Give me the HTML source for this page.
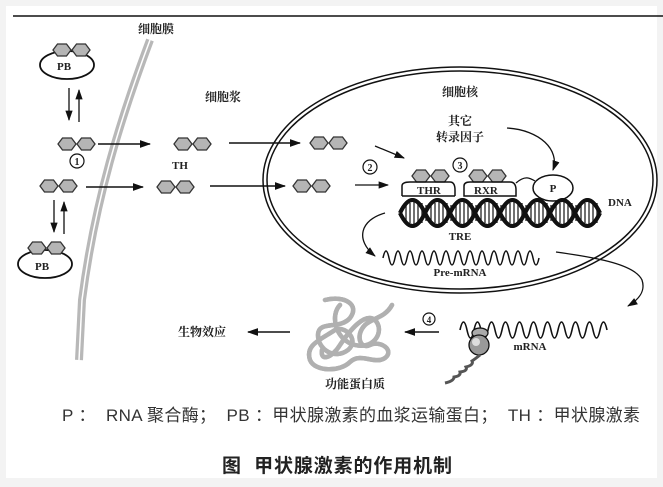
<!DOCTYPE html>
<html><head><meta charset="utf-8"><style>
html,body{margin:0;padding:0;background:#f3f3f3;}
svg{display:block;}
.t{font-family:"Liberation Serif","Noto Serif CJK SC",serif;font-weight:bold;fill:#222;}
</style></head><body>
<svg width="663" height="487" viewBox="0 0 663 487" xmlns="http://www.w3.org/2000/svg">
<defs>
<g id="hx"><polygon points="-9,0 -4.5,-6 4.5,-6 9,0 4.5,6 -4.5,6" fill="#b5b5b5" stroke="#333" stroke-width="1.3"/></g>
<g id="hp"><use href="#hx" x="0"/><use href="#hx" x="19"/></g>
<marker id="ar" viewBox="0 0 10 10" refX="9" refY="5" markerWidth="8" markerHeight="8" orient="auto"><path d="M0,1.5 L10,5 L0,8.5 Z" fill="#111"/></marker>
</defs>
<rect x="6" y="6" width="651" height="472" fill="#fff"/>
<line x1="13" y1="16" x2="663" y2="16" stroke="#111" stroke-width="1.5"/>

<path d="M150,40 C120,120 95,200 82,300 L79,360" fill="none" stroke="#b8b8b8" stroke-width="8"/>
<path d="M150,40 C120,120 95,200 82,300 L79,360" fill="none" stroke="#fff" stroke-width="1.5"/>
<text class="t" x="138" y="33" font-size="12">细胞膜</text>
<text class="t" x="205" y="101" font-size="12">细胞浆</text>

<ellipse cx="67" cy="65" rx="27" ry="14" fill="#fff" stroke="#111" stroke-width="1.8"/>
<use href="#hp" x="62" y="50"/>
<text class="t" x="57" y="70" font-size="11">PB</text>
<line x1="69" y1="88" x2="69" y2="120" stroke="#111" stroke-width="1.3" marker-end="url(#ar)"/>
<line x1="79" y1="122" x2="79" y2="90" stroke="#111" stroke-width="1.3" marker-end="url(#ar)"/>
<use href="#hp" x="67" y="144"/>
<circle cx="77" cy="161" r="7" fill="#fff" stroke="#111" stroke-width="1.2"/>
<text class="t" x="77" y="165" font-size="10" text-anchor="middle">1</text>
<use href="#hp" x="49" y="186"/>
<line x1="54" y1="200" x2="54" y2="232" stroke="#111" stroke-width="1.3" marker-end="url(#ar)"/>
<line x1="64" y1="234" x2="64" y2="202" stroke="#111" stroke-width="1.3" marker-end="url(#ar)"/>
<ellipse cx="45" cy="264" rx="27" ry="14" fill="#fff" stroke="#111" stroke-width="1.8"/>
<use href="#hp" x="37" y="248"/>
<text class="t" x="35" y="270" font-size="11">PB</text>

<line x1="98" y1="144" x2="150" y2="144" stroke="#111" stroke-width="1.4" marker-end="url(#ar)"/>
<line x1="86" y1="187" x2="143" y2="187" stroke="#111" stroke-width="1.4" marker-end="url(#ar)"/>
<use href="#hp" x="183" y="144"/>
<text class="t" x="172" y="169" font-size="11">TH</text>
<use href="#hp" x="166" y="187"/>
<line x1="229" y1="143" x2="300" y2="143" stroke="#111" stroke-width="1.4" marker-end="url(#ar)"/>
<line x1="210" y1="186" x2="285" y2="186" stroke="#111" stroke-width="1.4" marker-end="url(#ar)"/>

<ellipse cx="460" cy="180" rx="197" ry="113" fill="none" stroke="#111" stroke-width="1.5"/>
<ellipse cx="460" cy="180" rx="193" ry="109" fill="none" stroke="#111" stroke-width="1.5"/>
<text class="t" x="460" y="96" font-size="12" text-anchor="middle">细胞核</text>
<text class="t" x="460" y="125" font-size="12" text-anchor="middle">其它</text>
<text class="t" x="460" y="141" font-size="12" text-anchor="middle">转录因子</text>
<use href="#hp" x="319" y="143"/>
<use href="#hp" x="302" y="186"/>
<line x1="375" y1="146" x2="404" y2="158" stroke="#111" stroke-width="1.3" marker-end="url(#ar)"/>
<line x1="355" y1="185" x2="388" y2="185" stroke="#111" stroke-width="1.3" marker-end="url(#ar)"/>
<circle cx="370" cy="167" r="7" fill="#fff" stroke="#111" stroke-width="1.2"/>
<text class="t" x="370" y="171" font-size="10" text-anchor="middle">2</text>
<circle cx="460" cy="165" r="7" fill="#fff" stroke="#111" stroke-width="1.2"/>
<text class="t" x="460" y="169" font-size="10" text-anchor="middle">3</text>
<path d="M507,128 C540,130 560,150 553,170" fill="none" stroke="#111" stroke-width="1.3" marker-end="url(#ar)"/>

<use href="#hp" x="421" y="176"/>
<use href="#hp" x="478" y="176"/>
<path d="M402,196 L402,186 Q402,182 410,182 L450,182 Q455,182 455,190 L455,196" fill="none" stroke="#111" stroke-width="1.5"/>
<path d="M464,196 L464,186 Q464,182 470,182 L510,182 Q516,182 516,190 L516,196 Z" fill="none" stroke="#111" stroke-width="1.5"/>
<path d="M402,196 L455,196" fill="none" stroke="#111" stroke-width="1.5"/>
<text class="t" x="417" y="194" font-size="11">THR</text>
<text class="t" x="474" y="194" font-size="11">RXR</text>
<path d="M516,183 C525,175 530,178 535,181" fill="none" stroke="#111" stroke-width="1.3"/>
<ellipse cx="553" cy="188" rx="20" ry="13" fill="#fff" stroke="#111" stroke-width="1.5"/>
<text class="t" x="553" y="192" font-size="11" text-anchor="middle">P</text>

<g stroke="#333" stroke-width="1.4">
<path d="M406,205V221M410,203V223M414,202V224M418,202V224M422,203V223M426,205V221
M431,205V221M435,203V223M439,202V224M443,202V224M447,203V223M451,205V221
M456,205V221M460,203V223M464,202V224M468,202V224M472,203V223M476,205V221
M481,205V221M485,203V223M489,202V224M493,202V224M497,203V223M501,205V221
M506,205V221M510,203V223M514,202V224M518,202V224M522,203V223M526,205V221
M531,205V221M535,203V223M539,202V224M543,202V224M547,203V223M551,205V221
M556,205V221M560,203V223M564,202V224M568,202V224M572,203V223M576,205V221
M581,205V221M585,203V223M589,202V224M593,202V224M597,203V223"/>
</g>
<g fill="none">
<path id="s1" d="M400,213 q12.5,-26 25,0 t25,0 t25,0 t25,0 t25,0 t25,0 t25,0 t25,0" stroke="#111" stroke-width="4"/>
<path id="s2" d="M400,213 q12.5,26 25,0 t25,0 t25,0 t25,0 t25,0 t25,0 t25,0 t25,0" stroke="#111" stroke-width="4"/>
<use href="#s1" stroke="#999" stroke-width="1"/>
<use href="#s2" stroke="#999" stroke-width="1"/>
</g>
<text class="t" x="608" y="206" font-size="11">DNA</text>
<text class="t" x="460" y="240" font-size="11" text-anchor="middle">TRE</text>
<path d="M385,213 C360,220 355,240 375,256" fill="none" stroke="#111" stroke-width="1.3" marker-end="url(#ar)"/>

<path d="M383,258 q3,-14 6,0 t6,0 t6,0 t6,0 t6,0 t6,0 t6,0 t6,0 t6,0 t6,0 t6,0 t6,0 t6,0 t6,0 t6,0 t6,0 t6,0 t6,0 t6,0 t6,0 t6,0 t6,0 t6,0 t6,0 t6,0 t6,0" fill="none" stroke="#111" stroke-width="1.5"/>
<text class="t" x="460" y="276" font-size="11" text-anchor="middle">Pre-mRNA</text>
<path d="M556,252 C600,258 635,265 642,280 C646,292 638,300 628,306" fill="none" stroke="#111" stroke-width="1.3" marker-end="url(#ar)"/>

<path d="M460,330 q3.5,-16 7,0 t7,0 t7,0 t7,0 t7,0 t7,0 t7,0 t7,0 t7,0 t7,0 t7,0 t7,0 t7,0 t7,0 t7,0 t7,0 t7,0 t7,0 t7,0 t7,0 t7,0" fill="none" stroke="#111" stroke-width="1.6"/>
<text class="t" x="530" y="350" font-size="11" text-anchor="middle">mRNA</text>
<ellipse cx="480" cy="333" rx="8" ry="5" fill="#aaa" stroke="#111" stroke-width="1.3"/>
<circle cx="479" cy="345" r="10" fill="#999" stroke="#111" stroke-width="1.3"/>
<circle cx="476" cy="342" r="4" fill="#ddd"/>
<path d="M480,355 q-5,4 -8,6 q2,4 -6,6 q2,4 -6,5 q1,4 -6,5 q0,4 -9,6" fill="none" stroke="#555" stroke-width="3"/>
<circle cx="429" cy="319" r="6" fill="#fff" stroke="#111" stroke-width="1.2"/>
<text class="t" x="429" y="323" font-size="9" text-anchor="middle">4</text>
<line x1="439" y1="332" x2="405" y2="332" stroke="#111" stroke-width="1.4" marker-end="url(#ar)"/>

<g fill="none" stroke-linecap="round" stroke-linejoin="round">
<path id="pr" d="M325,300 C345,295 360,305 350,318 C340,330 318,320 318,335 C318,350 335,360 348,350 C360,340 345,325 335,330 C320,340 305,345 310,360 C315,372 340,372 350,362 C360,352 375,365 385,358 C395,350 380,340 370,345 C360,350 355,335 365,325 C372,318 385,318 392,305 M340,305 C330,315 335,340 355,345 C375,350 385,330 375,320 C365,312 350,330 340,345 C332,358 320,362 322,350" stroke="#b0b0b0" stroke-width="4.5"/>
<use href="#pr" stroke="#fff" stroke-width="1.6"/>
</g>
<text class="t" x="355" y="388" font-size="12" text-anchor="middle">功能蛋白质</text>
<line x1="290" y1="332" x2="248" y2="332" stroke="#111" stroke-width="1.4" marker-end="url(#ar)"/>
<text class="t" x="178" y="336" font-size="12">生物效应</text>

<text x="62" y="421" font-size="17" fill="#333" textLength="578" lengthAdjust="spacing" font-family="'Liberation Sans','Noto Sans CJK SC',sans-serif" xml:space="preserve">P ：  RNA 聚合酶；  PB ：甲状腺激素的血浆运输蛋白；  TH ：甲状腺激素</text>
<text x="222" y="472" font-size="19" font-weight="bold" fill="#222" textLength="230" lengthAdjust="spacing" font-family="'Liberation Sans','Noto Sans CJK SC',sans-serif" xml:space="preserve">图  甲状腺激素的作用机制</text>
</svg>
</body></html>
